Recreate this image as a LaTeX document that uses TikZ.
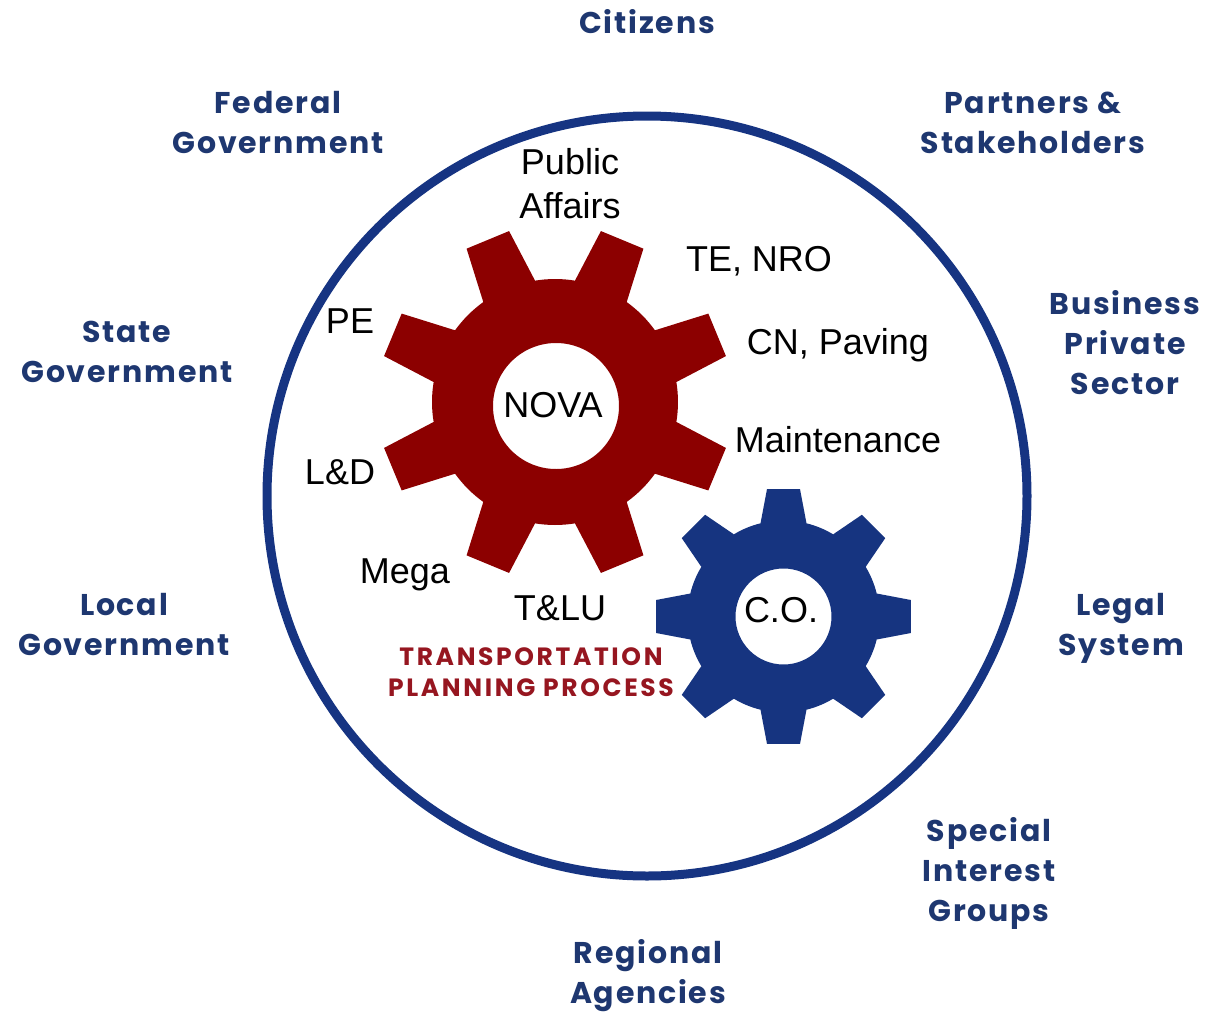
\documentclass[tikz,border=0pt]{standalone}
\usepackage{fontspec}
\setmainfont{Liberation Sans}
\newfontfamily\outerfont{Poppins}[LetterSpace=6]
\newfontfamily\tppfont{Poppins}[LetterSpace=10.5]
\definecolor{ringblue}{RGB}{22,52,130}
\definecolor{gearblue}{RGB}{22,52,128}
\definecolor{labelblue}{RGB}{30,55,112}
\definecolor{gearred}{RGB}{140,0,0}
\definecolor{tppred}{RGB}{150,22,32}
\tikzset{
  outerlbl/.style={font=\outerfont\bfseries\fontsize{30}{40}\selectfont, text=labelblue, align=center, inner sep=0pt},
  innerlbl/.style={font=\fontsize{36}{44}\selectfont, text=black, align=center, inner sep=0pt},
  tpplbl/.style={font=\tppfont\bfseries\fontsize{25}{31}\selectfont, text=tppred, align=center, inner sep=0pt}
}
\begin{document}
\begin{tikzpicture}[x=1pt,y=-1pt]
\useasboundingbox (0,0) rectangle (1211,1015);
% outer ring
\draw[ringblue, line width=9pt] (647,496) circle (380);
% red gear
\begin{scope}[shift={(555,402)}]
  \pgfmathsetmacro{\Rr}{123}\pgfmathsetmacro{\Rt}{177}
  \pgfmathsetmacro{\dr}{asin(28/123)}\pgfmathsetmacro{\dt}{asin(23/177)}
  \fill[gearred, even odd rule] ({22.5-\dr}:\Rr)
    \foreach \a in {22.5,67.5,112.5,157.5,202.5,247.5,292.5,337.5} {
      -- ({\a-\dr}:\Rr) -- ({\a-\dt}:\Rt) -- ({\a+\dt}:\Rt) -- ({\a+\dr}:\Rr)
      arc[start angle={\a+\dr}, end angle={\a+45-\dr}, radius=\Rr]
    } -- cycle
    (1,4) circle (63);
\end{scope}
% blue gear
\begin{scope}[shift={(783.5,616.5)}]
  \pgfmathsetmacro{\Rr}{96}\pgfmathsetmacro{\Rt}{128.5}
  \pgfmathsetmacro{\dr}{asin(23/96)}\pgfmathsetmacro{\dt}{asin(16.5/128.5)}
  \fill[gearblue, even odd rule] ({0-\dr}:\Rr)
    \foreach \a in {0,45,90,135,180,225,270,315} {
      -- ({\a-\dr}:\Rr) -- ({\a-\dt}:\Rt) -- ({\a+\dt}:\Rt) -- ({\a+\dr}:\Rr)
      arc[start angle={\a+\dr}, end angle={\a+45-\dr}, radius=\Rr]
    } -- cycle
    (0,0) circle (48);
\end{scope}
% outer labels
\node[outerlbl] (citizens) at (647,22) {Citizens};
\node[outerlbl] (federal) at (278,123) {Federal\\Government};
\node[outerlbl] (partners) at (1033,123) {Partners \&\\Stakeholders};
\node[outerlbl] (state) at (127,352) {State\\Government};
\node[outerlbl] (business) at (1125,343) {Business\\Private\\Sector};
\node[outerlbl] (local) at (124,625) {Local\\Government};
\node[outerlbl] (legal) at (1121,628) {Legal\\System};
\node[outerlbl] (special) at (989,873) {Special\\Interest\\Groups};
\node[outerlbl] (regional) at (648,976) {Regional\\Agencies};
% inner labels
\node[innerlbl] (pa) at (570,184) {Public\\Affairs};
\node[innerlbl] (te) at (759,261) {TE, NRO};
\node[innerlbl] (pe) at (350,321) {PE};
\node[innerlbl] (cn) at (838,345) {CN, Paving};
\node[innerlbl] (nova) at (553,405) {NOVA};
\node[innerlbl] (maint) at (838,440) {Maintenance};
\node[innerlbl] (ld) at (340,472) {L\&D};
\node[innerlbl] (mega) at (405,575) {Mega};
\node[innerlbl] (tlu) at (560,608) {T\&LU};
\node[innerlbl] (co) at (781,610) {C.O.};
\node[tpplbl] (tpp) at (531,672) {TRANSPORTATION\\PLANNING PROCESS};
\end{tikzpicture}
\end{document}
